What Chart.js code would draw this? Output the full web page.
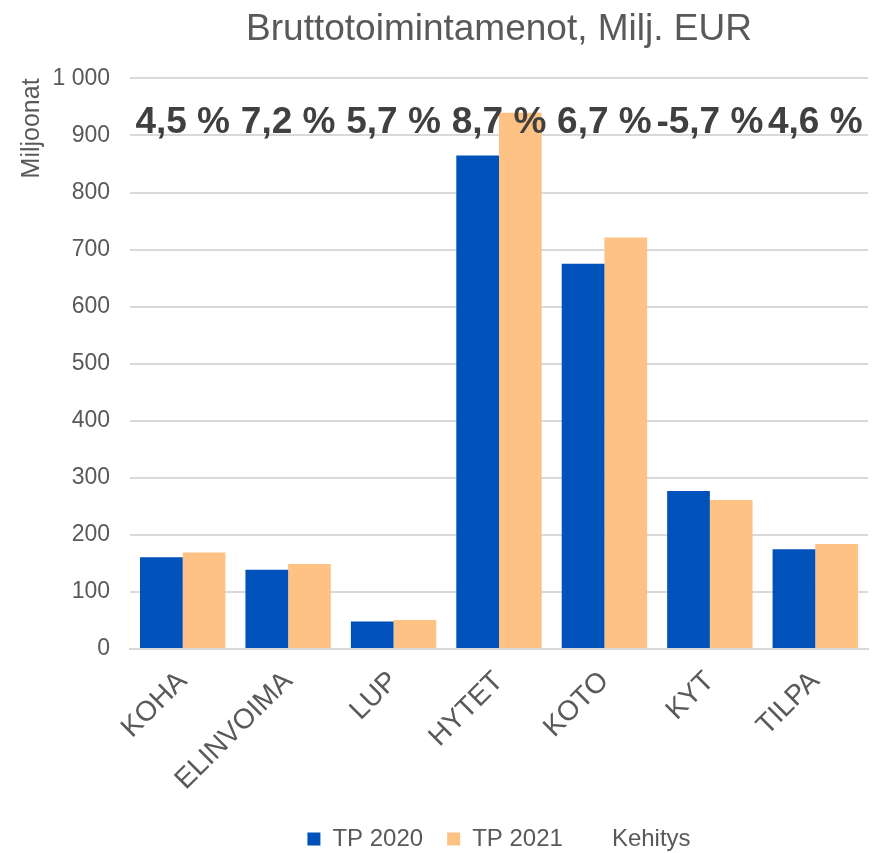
<!DOCTYPE html>
<html>
<head>
<meta charset="utf-8">
<script src="https://cdn.jsdelivr.net/npm/chart.js@4"></script>
<style>
  body { margin: 0; background: #fff; }
  #wrap { width: 872px; height: 853px; }
</style>
</head>
<body>
<div id="wrap"><canvas id="myChart" width="872" height="853"></canvas></div>
<script>
var categories = ['KOHA', 'ELINVOIMA', 'LUP', 'HYTET', 'KOTO', 'KYT', 'TILPA'];
var tp2020 = [161, 139, 48, 865, 675, 277, 175];
var tp2021 = [169, 149, 51, 940, 721, 261, 184];
var kehitys = ['4,5 %', '7,2 %', '5,7 %', '8,7 %', '6,7 %', '-5,7 %', '4,6 %'];
var yTicks = [0, 100, 200, 300, 400, 500, 600, 700, 800, 900, 1000];

var textColor = '#595959';
var fontFamily = '"Liberation Sans", Arial, sans-serif';

// piirretään kehitys-prosentit kaavion yläreunaan
var kehitysLabels = {
    id: 'kehitysLabels',
    afterDatasetsDraw: function (chart) {
        var ctx = chart.ctx;
        var xScale = chart.scales.x;
        var yScale = chart.scales.y;
        ctx.save();
        ctx.font = 'bold 37px ' + fontFamily;
        ctx.fillStyle = '#404040';
        ctx.textAlign = 'center';
        ctx.textBaseline = 'middle';
        kehitys.forEach(function (txt, i) {
            ctx.fillText(txt, xScale.getPixelForValue(i), yScale.getPixelForValue(922));
        });
        ctx.restore();
    }
};

var ctx = document.getElementById('myChart').getContext('2d');

var myChart = new Chart(ctx, {
    type: 'bar',
    data: {
        labels: categories,
        datasets: [{
            label: 'TP 2020',
            data: tp2020,
            backgroundColor: '#0051BA',
            categoryPercentage: 0.81,
            barPercentage: 1.0
        }, {
            label: 'TP 2021',
            data: tp2021,
            backgroundColor: '#FFC285',
            categoryPercentage: 0.81,
            barPercentage: 1.0
        }, {
            type: 'line',
            label: 'Kehitys',
            data: [],
            showLine: false,
            backgroundColor: 'rgba(0,0,0,0)',
            borderColor: 'rgba(0,0,0,0)'
        }]
    },
    options: {
        responsive: false,
        animation: false,
        layout: { padding: { left: 12, right: 4, top: 8, bottom: -8 } },
        plugins: {
            title: {
                display: true,
                text: 'Bruttotoimintamenot, Milj. EUR',
                color: textColor,
                fullSize: false,
                font: { family: fontFamily, size: 37, weight: 'normal' },
                padding: { top: 0, bottom: 26 }
            },
            legend: {
                position: 'bottom',
                fullSize: false,
                labels: {
                    color: textColor,
                    boxWidth: 13,
                    boxHeight: 13,
                    padding: 24,
                    font: { family: fontFamily, size: 24 }
                }
            },
            tooltip: { enabled: false }
        },
        scales: {
            x: {
                grid: { display: false, drawTicks: false },
                border: { color: '#d9d9d9', width: 2 },
                afterFit: function (axis) {
                    axis.height = 154;
                },
                ticks: {
                    color: textColor,
                    minRotation: 45,
                    maxRotation: 45,
                    padding: 16,
                    font: { family: fontFamily, size: 28 }
                }
            },
            y: {
                min: 0,
                max: 1000,
                afterBuildTicks: function (axis) {
                    axis.ticks = yTicks.map(function (v) { return { value: v }; });
                },
                afterFit: function (axis) {
                    axis.width = 118;
                },
                grid: { color: '#d9d9d9', lineWidth: 2, drawTicks: false },
                border: { display: false },
                title: {
                    display: true,
                    text: 'Miljoonat',
                    align: 'end',
                    color: textColor,
                    font: { family: fontFamily, size: 25 },
                    padding: { top: 5, bottom: 5 }
                },
                ticks: {
                    color: textColor,
                    padding: 20,
                    font: { family: fontFamily, size: 23 },
                    callback: function (v) {
                        return String(v).replace(/\B(?=(\d{3})+(?!\d))/g, ' ');
                    }
                }
            }
        }
    },
    plugins: [kehitysLabels]
});
</script>
</body>
</html>
